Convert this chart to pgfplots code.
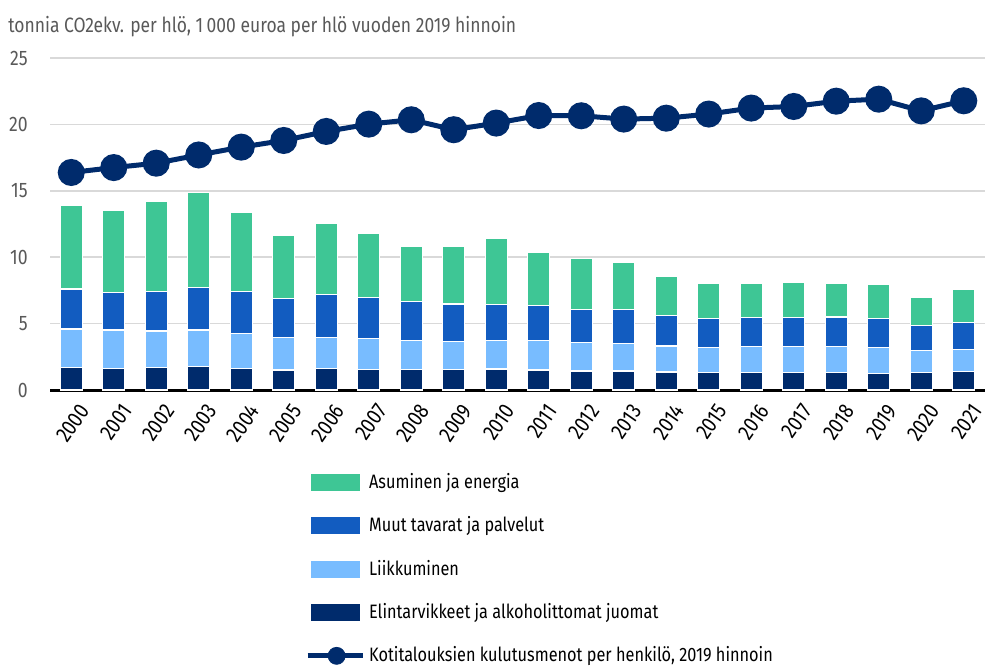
\documentclass[border=0pt]{standalone}
\usepackage{fontspec}
\setmainfont{Fira Sans}[FakeStretch=0.84]
\usepackage{pgfplots}
\pgfplotsset{compat=1.18}
\usepackage{pgfplotstable}
\definecolor{cgreen}{HTML}{3EC695}
\definecolor{cblue}{HTML}{125CC0}
\definecolor{clight}{HTML}{78BCFF}
\definecolor{cnavy}{HTML}{002B6C}
\definecolor{cgrey}{HTML}{595959}
\definecolor{cgrid}{HTML}{D9D9D9}

\pgfplotstableread{
x year food transport other housing income
0 2000 1.68 2.92 3.00 6.30 16.38
1 2001 1.63 2.89 2.84 6.14 16.75
2 2002 1.68 2.77 2.95 6.77 17.08
3 2003 1.76 2.76 3.22 7.13 17.70
4 2004 1.63 2.64 3.13 6.00 18.29
5 2005 1.50 2.44 2.94 4.77 18.79
6 2006 1.60 2.37 3.23 5.33 19.47
7 2007 1.56 2.31 3.09 4.84 20.02
8 2008 1.53 2.19 2.96 4.17 20.35
9 2009 1.53 2.11 2.84 4.35 19.60
10 2010 1.58 2.14 2.71 5.02 20.10
11 2011 1.50 2.22 2.63 4.00 20.67
12 2012 1.43 2.14 2.48 3.87 20.65
13 2013 1.43 2.06 2.56 3.57 20.40
14 2014 1.36 1.96 2.31 2.94 20.47
15 2015 1.31 1.88 2.19 2.66 20.78
16 2016 1.31 1.96 2.18 2.56 21.23
17 2017 1.31 1.96 2.18 2.66 21.35
18 2018 1.31 1.96 2.23 2.54 21.75
19 2019 1.23 1.96 2.19 2.58 21.90
20 2020 1.33 1.63 1.89 2.15 21.02
21 2021 1.38 1.68 2.01 2.49 21.78
}\datatable

\begin{document}
\begin{tikzpicture}
\path[use as bounding box] (0,0) rectangle (492.5pt,335.5pt);
\node[anchor=west, text=cgrey, font=\fontsize{10.4}{12}\selectfont, inner sep=0pt] at (4pt,322pt) {tonnia CO2ekv. per hlö, 1\,000 euroa per hlö vuoden 2019 hinnoin};
\begin{axis}[
  at={(25pt,140.5pt)}, anchor=south west,
  scale only axis, width=467.5pt, height=166pt,
  ybar stacked, bar width=11pt,
  xmin=-0.5, xmax=21.5, ymin=0, ymax=25,
  ytick={0,5,10,15,20,25},
  xtick={0,...,21},
  xticklabels={2000,2001,2002,2003,2004,2005,2006,2007,2008,2009,2010,2011,2012,2013,2014,2015,2016,2017,2018,2019,2020,2021},
  axis x line*=bottom, axis y line*=left,
  x axis line style={line width=1.5pt, black, -},
  y axis line style={draw=none},
  major tick length=0pt,
  ymajorgrids, grid style={cgrid, line width=0.75pt},
  /pgf/number format/assume math mode=true,
  yticklabel style={text=cgrey, font=\fontsize{10.5}{12}\selectfont, inner sep=0pt, xshift=-11pt},
  xticklabel style={xshift=3.5pt, yshift=-6pt, rotate=55, anchor=north east, font=\fontsize{11}{12}\selectfont, inner sep=0pt},
  every axis plot/.append style={draw=white, line width=0.6pt},
]
\addplot[fill=cnavy] table[x=x,y=food]{\datatable};
\addplot[fill=clight] table[x=x,y=transport]{\datatable};
\addplot[fill=cblue] table[x=x,y=other]{\datatable};
\addplot[fill=cgreen] table[x=x,y=housing]{\datatable};
\end{axis}
\begin{axis}[
  at={(25pt,140.5pt)}, anchor=south west,
  scale only axis, width=467.5pt, height=166pt,
  xmin=-0.5, xmax=21.5, ymin=0, ymax=25,
  hide axis, clip=false,
  legend style={at={(0.266,-0.226)}, anchor=north west, draw=none, fill=none,
    font=\fontsize{9.7}{12}\selectfont, row sep=8.6pt,
    /tikz/every even column/.append style={column sep=1pt}},
  legend cell align=left,
]
\addplot[cnavy, line width=2.5pt, mark=*, mark size=5.5pt, mark options={fill=cnavy, draw=cnavy}, forget plot] table[x=x,y=income]{\datatable};
\addlegendimage{legend image code/.code={\fill[cgreen] (0pt,-4pt) rectangle (24pt,4pt);}}
\addlegendentry{Asuminen ja energia}
\addlegendimage{legend image code/.code={\fill[cblue] (0pt,-4pt) rectangle (24pt,4pt);}}
\addlegendentry{Muut tavarat ja palvelut}
\addlegendimage{legend image code/.code={\fill[clight] (0pt,-4pt) rectangle (24pt,4pt);}}
\addlegendentry{Liikkuminen}
\addlegendimage{legend image code/.code={\fill[cnavy] (0pt,-4pt) rectangle (24pt,4pt);}}
\addlegendentry{Elintarvikkeet ja alkoholittomat juomat}
\addlegendimage{legend image code/.code={\draw[cnavy, line width=2.5pt] (-2pt,0pt) -- (25.5pt,0pt); \fill[cnavy] (12.5pt,0pt) circle (4.25pt);}}
\addlegendentry{Kotitalouksien kulutusmenot per henkilö, 2019 hinnoin}
\end{axis}
\end{tikzpicture}
\end{document}
